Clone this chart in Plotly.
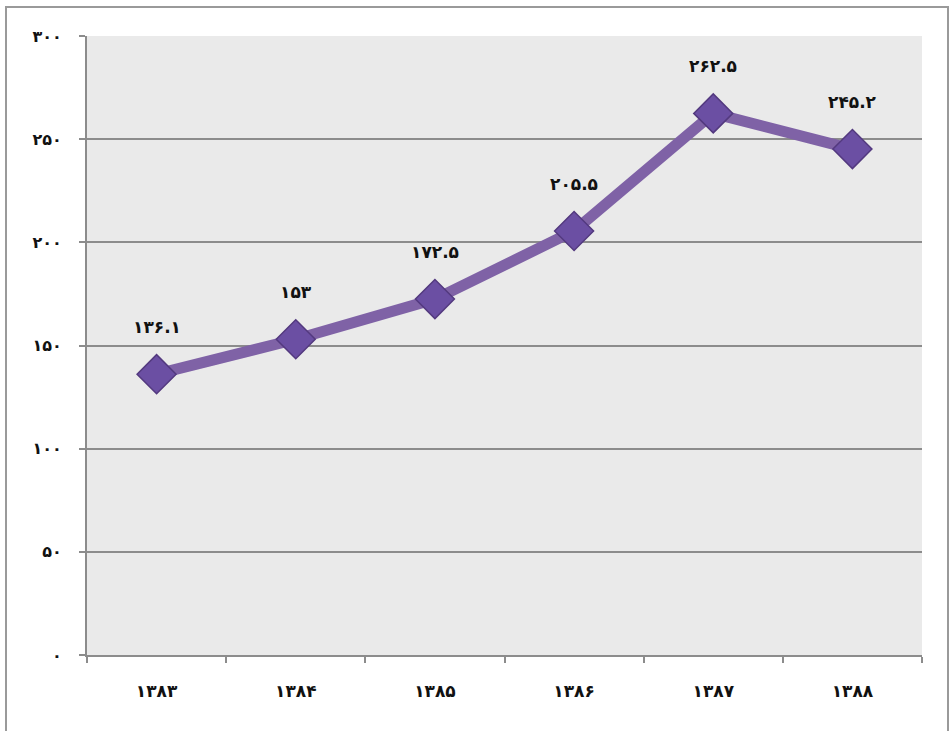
import plotly.graph_objects as go

years = ["۱۳۸۳", "۱۳۸۴", "۱۳۸۵", "۱۳۸۶", "۱۳۸۷", "۱۳۸۸"]
values = [136.1, 153, 172.5, 205.5, 262.5, 245.2]
value_labels = ["۱۳۶.۱", "۱۵۳", "۱۷۲.۵", "۲۰۵.۵", "۲۶۲.۵", "۲۴۵.۲"]
y_ticks = [0, 50, 100, 150, 200, 250, 300]
y_tick_labels = ["۰", "۵۰", "۱۰۰", "۱۵۰", "۲۰۰", "۲۵۰", "۳۰۰"]

FONT = "DejaVu Sans"
W, H = 950, 731
ML, MR, MT, MB = 87, 28, 36, 76

fig = go.Figure()
fig.add_trace(go.Scatter(
    x=years, y=values, mode="lines+markers",
    line=dict(color="#7f62a6", width=11),
    marker=dict(symbol="diamond", size=30, color="#6b4fa3",
                line=dict(color="#53397f", width=1.5)),
    hoverinfo="skip", showlegend=False,
))

for x, y, t in zip(years, values, value_labels):
    fig.add_annotation(x=x, y=y, text=t, showarrow=False, yshift=47,
                       font=dict(family=FONT, size=17, color="#111111", weight="bold"))

pw = W - ML - MR
ph = H - MT - MB
fig.add_shape(type="rect", xref="paper", yref="paper",
              x0=(6 - ML) / pw, x1=(948 - ML) / pw,
              y0=(H - MB - 745) / ph, y1=(H - MB - 7) / ph,
              line=dict(color="#9a9a9a", width=2), fillcolor="rgba(0,0,0,0)", layer="below")

fig.update_layout(
    width=W, height=H,
    margin=dict(l=ML, r=MR, t=MT, b=MB),
    paper_bgcolor="white", plot_bgcolor="#eaeaea",
    font=dict(family=FONT, size=15, color="#111111"),
    xaxis=dict(type="category", range=[-0.5, 5.5], tickson="boundaries",
               ticks="outside", ticklen=6, tickcolor="#8c8c8c", tickwidth=1.5,
               showline=True, linecolor="#8c8c8c", linewidth=2,
               showgrid=False, ticklabelstandoff=20,
               tickfont=dict(family=FONT, size=17, color="#111111", weight="bold"),
               fixedrange=True),
    yaxis=dict(range=[0, 300], tickvals=y_ticks, ticktext=y_tick_labels,
               ticks="outside", ticklen=6, tickcolor="#8c8c8c", tickwidth=1.5,
               showline=True, linecolor="#8c8c8c", linewidth=2,
               showgrid=True, gridcolor="#8c8c8c", gridwidth=1.5,
               zeroline=False, ticklabelstandoff=14,
               tickfont=dict(family=FONT, size=16, color="#111111", weight="bold"),
               fixedrange=True),
)

fig.write_html("out.html", config={"displayModeBar": False},
               post_script="document.body.style.margin='0';")
